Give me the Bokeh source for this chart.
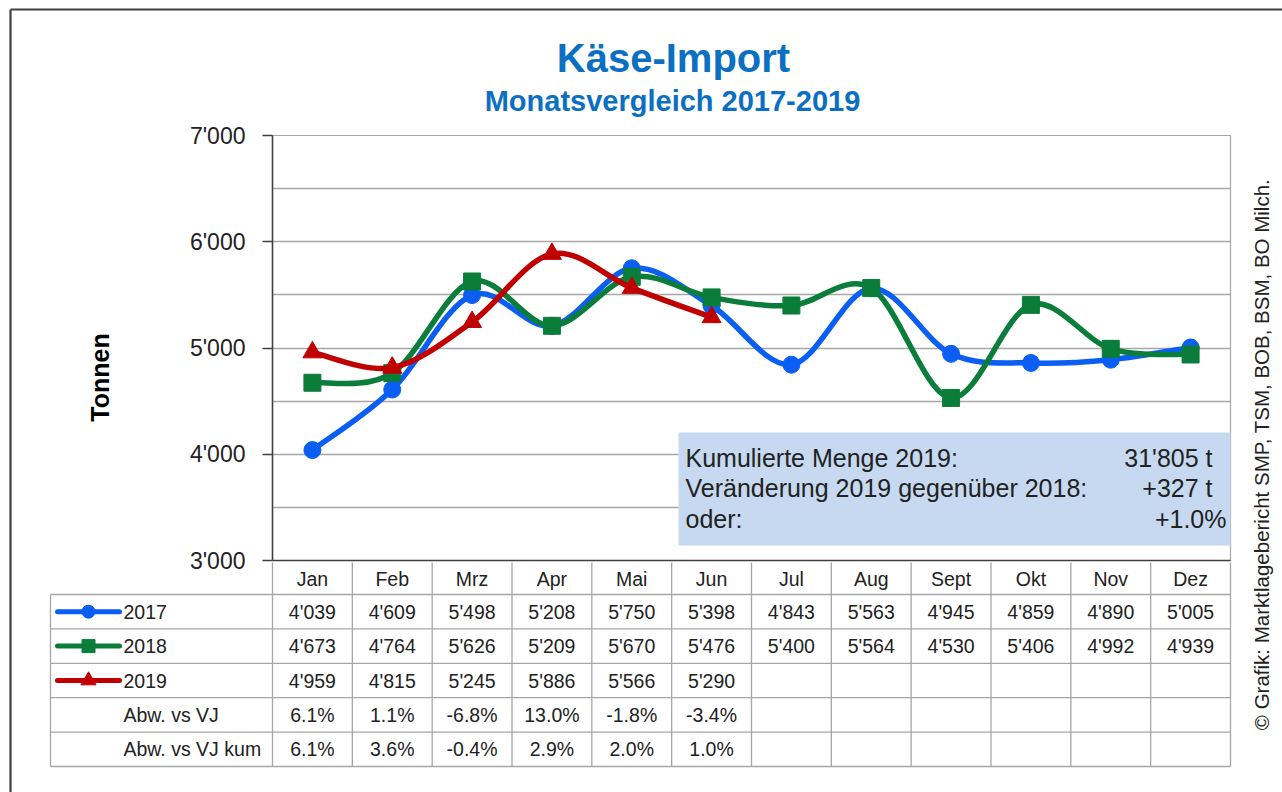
import numpy as np
from bokeh.plotting import figure
from bokeh.models import Range1d, FixedTicker, Label, BoxAnnotation
from bokeh.embed import file_html
from bokeh.resources import INLINE
from bokeh.core.properties import value

# ---------------- data ----------------
months = ["Jan", "Feb", "Mrz", "Apr", "Mai", "Jun", "Jul", "Aug", "Sept", "Okt", "Nov", "Dez"]
y2017 = [4039, 4609, 5498, 5208, 5750, 5398, 4843, 5563, 4945, 4859, 4890, 5005]
y2018 = [4673, 4764, 5626, 5209, 5670, 5476, 5400, 5564, 4530, 5406, 4992, 4939]
y2019 = [4959, 4815, 5245, 5886, 5566, 5290]
abw_vj = ["6.1%", "1.1%", "-6.8%", "13.0%", "-1.8%", "-3.4%"]
abw_vj_kum = ["6.1%", "3.6%", "-0.4%", "2.9%", "2.0%", "1.0%"]
series_names = ["2017", "2018", "2019"]
extra_rows = ["Abw. vs VJ", "Abw. vs VJ kum"]
y_ticks = [3000, 4000, 5000, 6000, 7000]
grid_ticks = [3500, 4000, 4500, 5000, 5500, 6000, 6500, 7000]
info_labels = ["Kumulierte Menge 2019:", "Veränderung 2019 gegenüber 2018:", "oder:"]
info_values = ["31'805 t", "+327 t", "+1.0%"]
title_text = "Käse-Import"
subtitle_text = "Monatsvergleich 2017-2019"
y_label = "Tonnen"
source_text = "© Grafik: Marktlagebericht SMP, TSM, BOB, BSM, BO Milch."

# ---------------- style ----------------
FONT = "Liberation Sans"
BLUE, GREEN, RED = "#0B5EF4", "#0B7D3A", "#C00000"
TITLE_BLUE = "#0B6FC2"
TXT = "#222222"
GRID = "#A6A6A6"
AXIS = "#3F3F3F"
colors = [BLUE, GREEN, RED]
markers = ["circle", "square", "triangle"]
msizes = [17, 17, 19]

W, H = 1282, 792
UNIT = 958 / 12.0          # px per month column
PXY = 425 / 4000.0         # px per tonne
ROW = 34.4                 # px per table row


def fmt(v):
    return f"{v:,}".replace(",", "'")


def bezier_segments(ys):
    x = np.arange(len(ys)) + 0.5
    y = np.asarray(ys, dtype=float)
    P = np.column_stack([x, y])
    prev = np.vstack([P[:1], P[:-1]])
    nxt = np.vstack([P[1:], P[-1:]])
    tang = (nxt - prev) / 6.0
    p0, p1 = P[:-1], P[1:]
    c0 = p0 + tang[:-1]
    c1 = p1 - tang[1:]
    return dict(x0=p0[:, 0], y0=p0[:, 1], x1=p1[:, 0], y1=p1[:, 1],
                cx0=c0[:, 0], cy0=c0[:, 1], cx1=c1[:, 0], cy1=c1[:, 1])


def place(left, top):
    return {"position": "absolute", "left": f"{left}px", "top": f"{top}px"}


# ---------------- background: frame, titles, axis title, source ----------------
bg = figure(width=W, height=H, x_range=Range1d(0, W), y_range=Range1d(H, 0),
            x_axis_location=None, y_axis_location=None,
            min_border_left=0, min_border_right=0, min_border_top=0, min_border_bottom=0,
            toolbar_location=None, output_backend="svg", styles=place(0, 0))
bg.outline_line_color = None
bg.background_fill_color = "white"
bg.border_fill_color = "white"
bg.grid.visible = False
bg.segment(x0=[10, 10], y0=[9, 9], x1=[W, 10], y1=[9, H], line_color="#404040", line_width=2.2)
bg.text(x=[673], y=[57], text=[title_text], text_font=value(FONT), text_font_size="40px",
        text_font_style="bold", text_color=TITLE_BLUE, text_align="center", text_baseline="middle")
bg.text(x=[672], y=[100], text=[subtitle_text], text_font=value(FONT), text_font_size="29px",
        text_font_style="bold", text_color=TITLE_BLUE, text_align="center", text_baseline="middle")
bg.text(x=[99], y=[377], text=[y_label], angle=np.pi / 2, text_font=value(FONT), text_font_size="25px",
        text_font_style="bold", text_color="black", text_align="center", text_baseline="middle")
bg.text(x=[1261], y=[454], text=[source_text], angle=np.pi / 2, text_font=value(FONT),
        text_font_size="20.5px", text_color=TXT, text_align="center", text_baseline="middle")

# ---------------- chart figure ----------------
p = figure(width=1230, height=582, x_range=Range1d(0, 12), y_range=Range1d(3000, 7000),
           min_border_left=262, min_border_right=10, min_border_top=125, min_border_bottom=32,
           toolbar_location=None, output_backend="svg", title=None, styles=place(10, 10))
p.background_fill_color = "white"
p.border_fill_color = None
p.outline_line_color = GRID
p.outline_line_width = 1.2

p.xgrid.visible = False
p.ygrid.ticker = FixedTicker(ticks=grid_ticks)
p.ygrid.grid_line_color = GRID
p.ygrid.grid_line_width = 1.3

p.yaxis.ticker = FixedTicker(ticks=y_ticks)
p.yaxis.major_label_overrides = {t: fmt(t) for t in y_ticks}
p.yaxis.major_label_text_font = FONT
p.yaxis.major_label_text_font_size = "23px"
p.yaxis.major_label_text_color = TXT
p.yaxis.major_label_standoff = 17
p.yaxis.major_tick_in = 0
p.yaxis.major_tick_out = 10
p.yaxis.minor_tick_line_color = None
p.yaxis.axis_line_color = AXIS
p.yaxis.axis_line_width = 1.5
p.yaxis.major_tick_line_color = AXIS
p.yaxis.major_tick_line_width = 1.5

centers = [i + 0.5 for i in range(len(months))]
p.xaxis.ticker = FixedTicker(ticks=centers)
p.xaxis.major_label_overrides = {c: m for c, m in zip(centers, months)}
p.xaxis.major_label_text_font = FONT
p.xaxis.major_label_text_font_size = "19.5px"
p.xaxis.major_label_text_color = TXT
p.xaxis.major_label_standoff = 7
p.xaxis.major_tick_in = 0
p.xaxis.major_tick_out = 0
p.xaxis.major_tick_line_color = None
p.xaxis.minor_tick_line_color = None
p.xaxis.axis_line_color = AXIS
p.xaxis.axis_line_width = 1.5

for ys, c, mk, ms in zip([y2017, y2018, y2019], colors, markers, msizes):
    seg = bezier_segments(ys)
    p.bezier(line_color=c, line_width=5.5, line_cap="round", **seg)
    p.scatter(x=centers[:len(ys)], y=ys, marker=mk, size=ms, fill_color=c, line_color=c)

# info box
box_left = (678 - 272) / UNIT
box_right = (1232 - 272) / UNIT
box_top = 3000 + (560 - 432) / PXY
box_bottom = 3000 + (560 - 545) / PXY
p.add_layout(BoxAnnotation(left=box_left, right=box_right, top=box_top, bottom=box_bottom,
                           fill_color="#C6D9F0", fill_alpha=1.0, line_color=None, level="underlay"))
line_y = [3000 + (560 - yy) / PXY for yy in (457, 487, 518)]
val_x = [(1212 - 272) / UNIT, (1212 - 272) / UNIT, (1226 - 272) / UNIT]
for lab, val, yy, vx in zip(info_labels, info_values, line_y, val_x):
    p.add_layout(Label(x=(685 - 272) / UNIT, y=yy, text=lab, text_font=FONT, text_font_size="25px",
                       text_color=TXT, text_baseline="middle", text_align="left"))
    p.add_layout(Label(x=vx, y=yy, text=val, text_font=FONT, text_font_size="25px",
                       text_color=TXT, text_baseline="middle", text_align="right"))

# ---------------- table figure (overlaps the chart's bottom border, transparent) ----------------
left_edge = -222 / UNIT
b = figure(width=1230, height=224,
           x_range=Range1d((48 - 272) / UNIT, (1232 - 272) / UNIT),
           y_range=Range1d((768 - 594) / ROW, (560 - 594) / ROW),
           x_axis_location=None, y_axis_location=None,
           min_border_left=38, min_border_right=8, min_border_top=0, min_border_bottom=16,
           toolbar_location=None, output_backend="svg", styles=place(10, 560))
b.outline_line_color = None
b.background_fill_color = None
b.border_fill_color = None
b.grid.visible = False

n_rows = 5
hy = list(range(n_rows + 1))
b.segment(x0=[left_edge] * len(hy), x1=[12] * len(hy), y0=hy, y1=hy, line_color=GRID, line_width=1.3)
vx = list(range(len(months) + 1))
header_top = (562 - 594) / ROW
b.segment(x0=vx, x1=vx, y0=[header_top] * len(vx), y1=[n_rows] * len(vx), line_color=GRID, line_width=1.3)
b.segment(x0=[left_edge], x1=[left_edge], y0=[0], y1=[n_rows], line_color=GRID, line_width=1.3)

rows_text = [[fmt(v) for v in y2017], [fmt(v) for v in y2018], [fmt(v) for v in y2019], abw_vj, abw_vj_kum]
tx, ty, tt = [], [], []
for r, vals in enumerate(rows_text):
    for i, t in enumerate(vals):
        tx.append(i + 0.5)
        ty.append(r + 0.5)
        tt.append(t)
b.text(x=tx, y=ty, text=tt, text_font=value(FONT), text_font_size="19.5px", text_color=TXT,
       text_align="center", text_baseline="middle")

row_labels = series_names + extra_rows
lab_x = (123 - 272) / UNIT
b.text(x=[lab_x] * len(row_labels), y=[r + 0.5 for r in range(len(row_labels))], text=row_labels,
       text_font=value(FONT), text_font_size="19.5px", text_color=TXT,
       text_align="left", text_baseline="middle")

leg_x0, leg_x1, leg_m = (57 - 272) / UNIT, (119 - 272) / UNIT, (88 - 272) / UNIT
for r, (c, mk, ms) in enumerate(zip(colors, markers, msizes)):
    b.segment(x0=[leg_x0], x1=[leg_x1], y0=[r + 0.5], y1=[r + 0.5], line_color=c, line_width=5, line_cap="round")
    b.scatter(x=[leg_m], y=[r + 0.5], marker=mk, size=ms - 4, fill_color=c, line_color=c)

open("out.html", "w").write(file_html([bg, p, b], INLINE))
